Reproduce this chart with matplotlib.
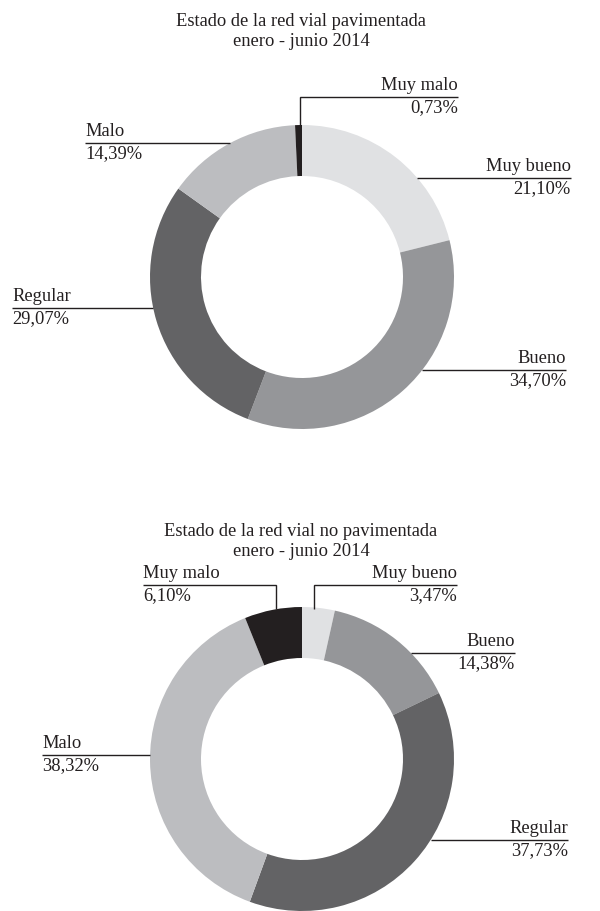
import matplotlib
matplotlib.use("Agg")
import matplotlib.pyplot as plt
import numpy as np

W, H = 600, 911

categories = ["Muy bueno", "Bueno", "Regular", "Malo", "Muy malo"]
pavimentada = [21.10, 34.70, 29.07, 14.39, 0.73]
no_pavimentada = [3.47, 14.38, 37.73, 38.32, 6.10]
colors = ["#e0e1e3", "#959699", "#636365", "#bcbdc0", "#231f20"]

title_top = ["Estado de la red vial pavimentada", "enero - junio 2014"]
title_bottom = ["Estado de la red vial no pavimentada", "enero - junio 2014"]

FONT = "Liberation Serif"
FS = 13.3
TXT = "#231f20"

fig = plt.figure(figsize=(W / 100, H / 100), dpi=100)
fig.patch.set_facecolor("white")

# overlay axes in pixel coordinates (y downwards) for titles and leader lines
ov = fig.add_axes([0, 0, 1, 1], zorder=3)
ov.set_xlim(0, W)
ov.set_ylim(H, 0)
ov.axis("off")
ov.patch.set_alpha(0)

R_OUT, R_IN = 152, 101


def donut(cx, cy, values):
    ax = fig.add_axes([(cx - R_OUT) / W, 1 - (cy + R_OUT) / H,
                       2 * R_OUT / W, 2 * R_OUT / H], zorder=1)
    ax.pie(values, colors=colors, startangle=90, counterclock=False,
           radius=1, wedgeprops=dict(width=1 - R_IN / R_OUT,
                                     edgecolor="none", linewidth=0))
    ax.set_xlim(-1, 1)
    ax.set_ylim(-1, 1)
    ax.set_aspect("equal")
    ax.axis("off")


def fmt(v):
    return f"{v:.2f}".replace(".", ",") + "%"


def ring_x(cx, cy, y, side):
    dy = y - cy
    dx = np.sqrt(max(R_OUT ** 2 - dy ** 2, 0))
    return cx + side * dx


def side_label(cx, cy, name, value, y_line, x_text, side):
    # horizontal leader from ring edge out to the text column
    x_ring = ring_x(cx, cy, y_line, side)
    ov.plot([x_ring, x_text], [y_line, y_line], color=TXT, lw=1.0,
            solid_capstyle="butt")
    ha = "right" if side > 0 else "left"
    ov.text(x_text, y_line - 3, name, ha=ha, va="bottom",
            fontsize=FS, family=FONT, color=TXT)
    ov.text(x_text, y_line + 2, fmt(value), ha=ha, va="top",
            fontsize=FS, family=FONT, color=TXT)


def top_label(x_stem, y_ring, name, value, y_line, x_text, side):
    # elbow leader: vertical stem from ring top, then horizontal to text
    ov.plot([x_stem, x_stem, x_text], [y_ring, y_line, y_line], color=TXT,
            lw=1.0, solid_capstyle="butt", solid_joinstyle="miter")
    ha = "right" if side > 0 else "left"
    ov.text(x_text, y_line - 3, name, ha=ha, va="bottom",
            fontsize=FS, family=FONT, color=TXT)
    ov.text(x_text, y_line + 2, fmt(value), ha=ha, va="top",
            fontsize=FS, family=FONT, color=TXT)


def titles(lines, y0):
    for i, t in enumerate(lines):
        ov.text(301, y0 + i * 21, t, ha="center", va="center",
                fontsize=FS, family=FONT, color=TXT)


# ---- paved network ----
cx1, cy1 = 302, 277
donut(cx1, cy1, pavimentada)
titles(title_top, 21)
top_label(300, cy1 - R_OUT + 2, categories[4], pavimentada[4], 97, 458, +1)
side_label(cx1, cy1, categories[0], pavimentada[0], 178, 571, +1)
side_label(cx1, cy1, categories[1], pavimentada[1], 370, 566, +1)
side_label(cx1, cy1, categories[2], pavimentada[2], 308, 12, -1)
side_label(cx1, cy1, categories[3], pavimentada[3], 143, 85, -1)

# ---- unpaved network ----
cx2, cy2 = 302, 759
donut(cx2, cy2, no_pavimentada)
titles(title_bottom, 531)
top_label(314, cy2 - R_OUT + 2, categories[0], no_pavimentada[0], 585, 457, +1)
top_label(276, cy2 - R_OUT + 2, categories[4], no_pavimentada[4], 585, 143, -1)
side_label(cx2, cy2, categories[1], no_pavimentada[1], 653, 515, +1)
side_label(cx2, cy2, categories[2], no_pavimentada[2], 840, 568, +1)
side_label(cx2, cy2, categories[3], no_pavimentada[3], 755, 42, -1)

fig.savefig("out.png", dpi=100, facecolor="white")
